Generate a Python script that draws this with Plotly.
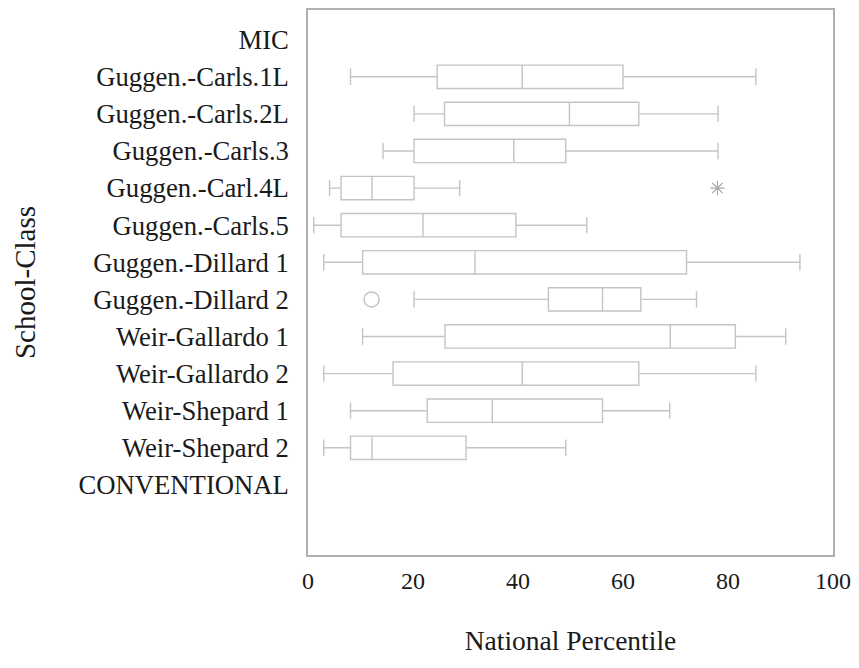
import plotly.graph_objects as go

# Category axis: group headers (MIC / CONVENTIONAL) with the classes between them
categories = ["MIC", "Guggen.-Carls.1L", "Guggen.-Carls.2L", "Guggen.-Carls.3",
              "Guggen.-Carl.4L", "Guggen.-Carls.5", "Guggen.-Dillard 1",
              "Guggen.-Dillard 2", "Weir-Gallardo 1", "Weir-Gallardo 2",
              "Weir-Shepard 1", "Weir-Shepard 2", "CONVENTIONAL"]

classes = categories[1:-1]

# Five-number summaries (national percentile) per class
lower_whisker = [8.1, 20.2, 14.3, 4.1, 1.1, 3.0, 20.2, 10.4, 3.0, 8.1, 3.0]
q1_values = [24.6, 26.0, 20.2, 6.3, 6.3, 10.4, 45.8, 26.1, 16.2, 22.7, 8.1]
median_values = [40.8, 49.8, 39.2, 12.2, 21.9, 31.8, 56.1, 69.0, 40.8, 35.1, 12.2]
q3_values = [60.0, 63.0, 49.1, 20.2, 39.6, 72.1, 63.4, 81.4, 63.0, 56.1, 30.1]
upper_whisker = [85.3, 78.1, 78.1, 28.9, 53.1, 93.7, 74.0, 91.0, 85.3, 68.9, 49.1]

# Flagged cases
outlier_class = ["Guggen.-Dillard 2"]
outlier_value = [12.1]
extreme_class = ["Guggen.-Carl.4L"]
extreme_value = [78.0]

pos = {name: i for i, name in enumerate(categories)}
class_pos = [pos[c] for c in classes]

LINE = "#c4c4c4"
FRAME = "#b0b0b0"
FONT = "Liberation Serif"
TEXT = "#1a1a1a"

fig = go.Figure()

fig.add_trace(go.Box(
    y=class_pos,
    q1=q1_values,
    median=median_values,
    q3=q3_values,
    lowerfence=lower_whisker,
    upperfence=upper_whisker,
    orientation="h",
    fillcolor="rgba(255,255,255,0)",
    line=dict(color=LINE, width=1.4),
    whiskerwidth=0.7,
    boxpoints=False,
    showlegend=False,
    hoverinfo="skip",
))

fig.add_trace(go.Scatter(
    x=outlier_value,
    y=[pos[c] for c in outlier_class],
    mode="markers",
    marker=dict(symbol="circle-open", size=15, color=LINE, line=dict(width=1.5, color=LINE)),
    showlegend=False,
    hoverinfo="skip",
))

fig.add_trace(go.Scatter(
    x=extreme_value,
    y=[pos[c] for c in extreme_class],
    mode="markers",
    marker=dict(symbol="asterisk-open", size=12, color="#a8a8a8", line=dict(width=1.2, color="#a8a8a8")),
    showlegend=False,
    hoverinfo="skip",
))

fig.update_layout(
    width=859,
    height=668,
    margin=dict(l=308, r=22, t=8, b=113),
    paper_bgcolor="white",
    plot_bgcolor="white",
    boxmode="overlay",
    boxgap=0.1,
    font=dict(family=FONT, color=TEXT),
)

fig.update_xaxes(
    range=[0, 100],
    tickvals=[0, 20, 40, 60, 80, 100],
    ticks="",
    showgrid=False,
    zeroline=False,
    showline=True,
    mirror=True,
    linecolor=FRAME,
    linewidth=1.5,
    tickfont=dict(family=FONT, size=24, color=TEXT),
    ticklabelstandoff=3,
    title=dict(text="National Percentile", font=dict(family=FONT, size=27.5, color=TEXT), standoff=38),
)

fig.update_yaxes(
    range=[13.89, -0.8],
    tickvals=list(range(len(categories))),
    ticktext=categories,
    ticks="",
    showgrid=False,
    zeroline=False,
    showline=True,
    mirror=True,
    linecolor=FRAME,
    linewidth=1.5,
    tickfont=dict(family=FONT, size=26.7, color=TEXT),
    ticklabelstandoff=12,
    title=dict(text="School-Class", font=dict(family=FONT, size=29, color=TEXT), standoff=34),
)

fig.write_html("out.html")
